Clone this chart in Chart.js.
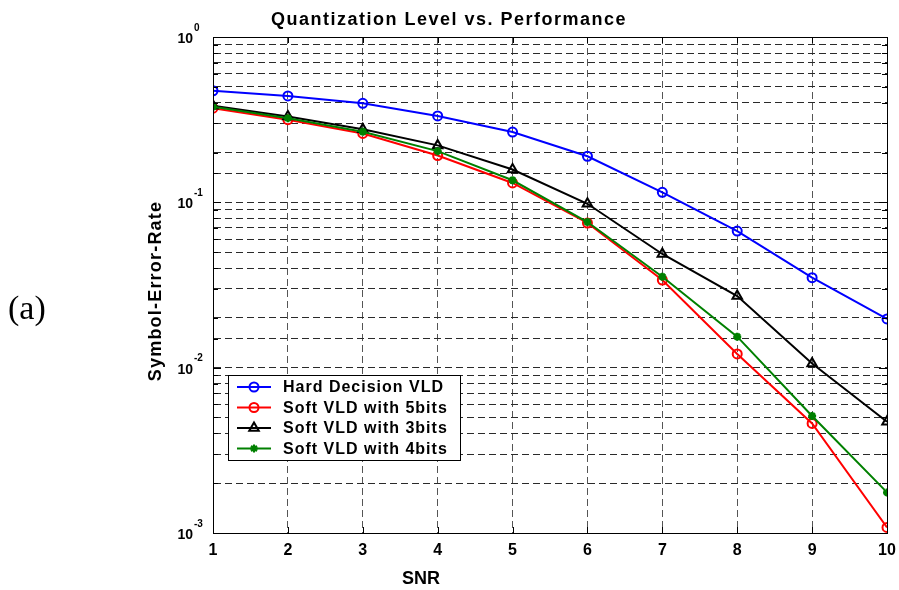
<!DOCTYPE html>
<html>
<head>
<meta charset="utf-8">
<script src="https://cdn.jsdelivr.net/npm/chart.js@4.4.1/dist/chart.umd.min.js"></script>
<style>
  html, body { margin: 0; padding: 0; background: #fff; }
  canvas { display: block; }
</style>
</head>
<body>
<canvas id="chart" width="899" height="590"></canvas>
<script>
// SNR points and symbol error rate for each decoder
const snr = [1, 2, 3, 4, 5, 6, 7, 8, 9, 10];
const hardVLD = [0.473, 0.440, 0.397, 0.333, 0.266, 0.190, 0.115, 0.067, 0.035, 0.0197];
const soft5bits = [0.371, 0.316, 0.261, 0.192, 0.131, 0.075, 0.0339, 0.0121, 0.0046, 0.00108];
const soft3bits = [0.384, 0.330, 0.277, 0.221, 0.158, 0.098, 0.0487, 0.0271, 0.0106, 0.00471];
const soft4bits = [0.379, 0.323, 0.267, 0.204, 0.136, 0.076, 0.0355, 0.0154, 0.0051, 0.00176];
const yExponents = [0, -1, -2, -3];

const pts = (ys) => snr.map((x, i) => ({ x: x, y: ys[i] }));

const FONT = '"Liberation Sans", Arial, sans-serif';
const NARROW = '"Liberation Sans Narrow", "Liberation Sans", Arial, sans-serif';

// frame, inward ticks, y labels with exponents, titles and the boxed legend
const decorations = {
  id: 'decorations',
  afterDraw(chart) {
    const ctx = chart.ctx;
    const a = chart.chartArea;
    const xs = chart.scales.x;
    const ys = chart.scales.y;
    ctx.save();

    // inward tick marks on all four sides
    ctx.strokeStyle = '#000';
    ctx.lineWidth = 1;
    ctx.beginPath();
    snr.forEach(v => {
      const px = Math.round(xs.getPixelForValue(v)) + 0.5;
      ctx.moveTo(px, a.bottom); ctx.lineTo(px, a.bottom - 6);
      ctx.moveTo(px, a.top); ctx.lineTo(px, a.top + 6);
    });
    ys.ticks.forEach(t => {
      const py = Math.round(ys.getPixelForValue(t.value)) + 0.5;
      const len = Math.abs(Math.log10(t.value) - Math.round(Math.log10(t.value))) < 1e-6 ? 8 : 5;
      ctx.moveTo(a.left, py); ctx.lineTo(a.left + len, py);
      ctx.moveTo(a.right, py); ctx.lineTo(a.right - len, py);
    });
    ctx.stroke();

    // axes box
    ctx.strokeRect(Math.round(a.left) + 0.5, Math.round(a.top) + 0.5,
      Math.round(a.right - a.left), Math.round(a.bottom - a.top));

    // y tick labels: 10 with a raised exponent
    ctx.fillStyle = '#000';
    ctx.textBaseline = 'middle';
    yExponents.forEach(e => {
      const py = ys.getPixelForValue(Math.pow(10, e));
      ctx.font = 'bold 14px ' + FONT;
      ctx.textAlign = 'right';
      ctx.fillText('10', 193, py + 2);
      ctx.font = 'bold 10px ' + FONT;
      ctx.textAlign = 'left';
      ctx.fillText(String(e), 194, py - 9);
    });

    // title
    ctx.letterSpacing = '1.5px';
    ctx.font = 'bold 18px ' + FONT;
    ctx.textAlign = 'center';
    ctx.fillText('Quantization Level vs. Performance', 449, 20);

    // axis titles
    ctx.font = 'bold 18px ' + NARROW;
    ctx.letterSpacing = '0px';
    ctx.fillText('SNR', 421, 579);
    ctx.save();
    ctx.translate(156, 291);
    ctx.rotate(-Math.PI / 2);
    ctx.letterSpacing = '1.2px';
    ctx.font = 'bold 18px ' + FONT;
    ctx.fillText('Symbol-Error-Rate', 0, 0);
    ctx.restore();

    // panel tag
    ctx.letterSpacing = '0px';
    ctx.font = '34px "Liberation Serif", "Times New Roman", serif';
    ctx.textAlign = 'left';
    ctx.textBaseline = 'alphabetic';
    ctx.fillText('(a)', 8, 319);

    // legend box
    const bx = 228, by = 375, bw = 232, bh = 85;
    ctx.fillStyle = '#fff';
    ctx.fillRect(bx, by, bw, bh);
    ctx.strokeStyle = '#000';
    ctx.lineWidth = 1;
    ctx.strokeRect(bx + 0.5, by + 0.5, bw, bh);
    ctx.textBaseline = 'middle';
    ctx.textAlign = 'left';
    ctx.font = 'bold 16px ' + FONT;
    ctx.letterSpacing = '1px';
    chart.data.datasets.forEach((ds, i) => {
      const ry = by + 12 + i * 20.5;
      ctx.strokeStyle = ds.borderColor;
      ctx.lineWidth = 2;
      ctx.beginPath();
      ctx.moveTo(237, ry); ctx.lineTo(271, ry);
      ctx.stroke();
      ctx.fillStyle = ds.pointBackgroundColor;
      Chart.helpers.drawPoint(ctx, {
        pointStyle: ds.pointStyle, radius: ds.pointRadius,
        borderWidth: ds.pointBorderWidth, rotation: 0
      }, 254, ry);
      ctx.fillStyle = '#000';
      ctx.fillText(ds.label, 283, ry + 1);
    });

    ctx.restore();
  }
};

const gridDash = { display: true, color: '#000', width: 1, dash: [7, 4] };

new Chart(document.getElementById('chart'), {
  type: 'line',
  data: {
    datasets: [
      {
        label: 'Hard Decision VLD', data: pts(hardVLD),
        borderColor: '#0000ff', borderWidth: 2,
        pointStyle: 'circle', pointRadius: 4.5, pointBorderWidth: 2,
        pointBackgroundColor: 'rgba(0,0,0,0)', pointBorderColor: '#0000ff', order: 3
      },
      {
        label: 'Soft VLD with 5bits', data: pts(soft5bits),
        borderColor: '#ff0000', borderWidth: 2,
        pointStyle: 'circle', pointRadius: 4.5, pointBorderWidth: 2,
        pointBackgroundColor: 'rgba(0,0,0,0)', pointBorderColor: '#ff0000', order: 2
      },
      {
        label: 'Soft VLD with 3bits', data: pts(soft3bits),
        borderColor: '#000000', borderWidth: 2,
        pointStyle: 'triangle', pointRadius: 5.5, pointBorderWidth: 2,
        pointBackgroundColor: 'rgba(0,0,0,0)', pointBorderColor: '#000000', order: 1
      },
      {
        label: 'Soft VLD with 4bits', data: pts(soft4bits),
        borderColor: '#008000', borderWidth: 2,
        pointStyle: 'star', pointRadius: 4, pointBorderWidth: 2.5,
        pointBackgroundColor: '#008000', pointBorderColor: '#008000', order: 0
      }
    ]
  },
  options: {
    responsive: false,
    animation: false,
    devicePixelRatio: 1,
    layout: { padding: { left: 213, right: 12, top: 37, bottom: 0 } },
    elements: { line: { tension: 0 } },
    scales: {
      x: {
        type: 'linear', min: 1, max: 10,
        afterFit: (s) => { s.height = 57; s.paddingLeft = 0; s.paddingRight = 0; },
        grid: { color: '#555', lineWidth: 1, drawTicks: false },
        border: gridDash,
        ticks: {
          stepSize: 1, padding: 8, color: '#000',
          font: { family: NARROW, size: 16, weight: 'bold' }
        }
      },
      y: {
        type: 'logarithmic', min: 0.001, max: 1,
        afterFit: (s) => { s.width = 0; s.paddingTop = 0; s.paddingBottom = 0; },
        grid: { color: '#2a2a2a', lineWidth: 1, drawTicks: false },
        border: gridDash,
        ticks: { display: false, autoSkip: false }
      }
    },
    plugins: {
      legend: { display: false },
      title: { display: false },
      tooltip: { enabled: false }
    }
  },
  plugins: [decorations]
});
</script>
</body>
</html>
